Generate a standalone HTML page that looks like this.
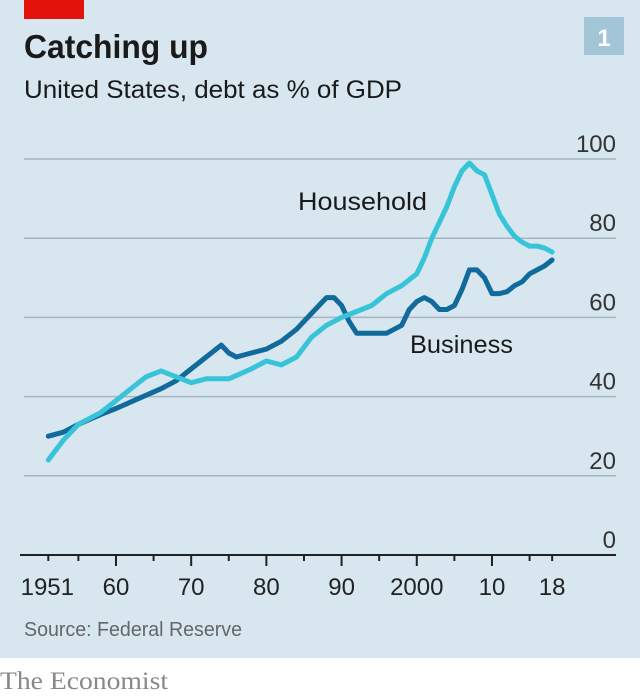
<!DOCTYPE html>
<html><head><meta charset="utf-8"><style>
body{margin:0;width:640px;height:697px;background:#fff;overflow:hidden}
svg{display:block}
text{font-family:"Liberation Sans",sans-serif}
</style></head><body>
<svg width="640" height="697">
<rect x="0" y="0" width="640" height="658" fill="#d7e6ef"/>
<rect x="24" y="0" width="60" height="19" fill="#e3120b"/>
<text x="24" y="58" font-size="33" font-weight="bold" fill="#1a1a1a" textLength="184" lengthAdjust="spacingAndGlyphs">Catching up</text>
<text x="24" y="98" font-size="25" fill="#1a1a1a" textLength="378" lengthAdjust="spacingAndGlyphs">United States, debt as % of GDP</text>
<rect x="584" y="17" width="40" height="38" fill="#a3c5d8"/>
<text x="604" y="46" font-size="24" font-weight="bold" fill="#fff" text-anchor="middle">1</text>
<g id="grid"></g>
<g id="series"></g>
<text x="298" y="210" font-size="25" fill="#1a1a1a" textLength="129" lengthAdjust="spacingAndGlyphs">Household</text>
<text x="410" y="353" font-size="25" fill="#1a1a1a" textLength="103" lengthAdjust="spacingAndGlyphs">Business</text>
<text x="24" y="636" font-size="20" fill="#666" textLength="218" lengthAdjust="spacingAndGlyphs">Source: Federal Reserve</text>
<text x="0" y="689" font-size="25" fill="#888" font-family="Liberation Serif, serif" style="font-family:'Liberation Serif',serif" textLength="168" lengthAdjust="spacingAndGlyphs">The Economist</text>
</svg>
<script>
const yTicks=[0,20,40,60,80,100];
const xTickYears=[1960,1970,1980,1990,2000,2010];
const xMinorYears=[1951,1955,1965,1975,1985,1995,2005,2015,2018];
const xLabelYears=[1951,1960,1970,1980,1990,2000,2010,2018];
const xLabels=["1951","60","70","80","90","2000","10","18"];
const hhYears=[1951,1953,1955,1958,1960,1962,1964,1966,1968,1970,1972,1975,1978,1980,1982,1984,1986,1988,1990,1992,1994,1996,1998,2000,2001,2002,2003,2004,2005,2006,2007,2008,2009,2010,2011,2012,2013,2014,2015,2016,2017,2018];
const hhValues=[24,29,33,36,39,42,45,46.5,45,43.5,44.5,44.5,47,49,48,50,55,58,60,61.5,63,66,68,71,75,80,84,88,93,97,99,97,96,91,86,83,80.5,79,78,78,77.5,76.5];
const bizYears=[1951,1953,1955,1958,1960,1963,1966,1968,1970,1972,1974,1975,1976,1978,1980,1982,1984,1986,1988,1989,1990,1991,1992,1994,1996,1998,1999,2000,2001,2002,2003,2004,2005,2006,2007,2008,2009,2010,2011,2012,2013,2014,2015,2016,2017,2018];
const bizValues=[30,31,33,35.5,37,39.5,42,44,47,50,53,51,50,51,52,54,57,61,65,65,63,59,56,56,56,58,62,64,65,64,62,62,63,67,72,72,70,66,66,66.5,68,69,71,72,73,74.5];
const NS="http://www.w3.org/2000/svg";
const X=y=>48.3+(y-1951)*7.52;
const Y=v=>555-v*3.96;
const grid=document.getElementById('grid'),ser=document.getElementById('series');
function mk(tag,attrs,parent){const e=document.createElementNS(NS,tag);for(const k in attrs)e.setAttribute(k,attrs[k]);parent.appendChild(e);return e;}
yTicks.forEach(v=>{
  if(v>0){const l=mk('line',{x1:24,x2:616,y1:Y(v),y2:Y(v),stroke:'#a6b5bf','stroke-width':1.5},grid);
  
  }
  const t=mk('text',{x:616,y:Y(v)-7,'font-size':24,fill:'#333','text-anchor':'end'},grid);
  t.textContent=v;
  
  
});
const ax=mk('line',{x1:20,x2:616,y1:555,y2:555,stroke:'#222','stroke-width':2},grid);


xTickYears.forEach(yr=>{const l=mk('line',{x1:X(yr),x2:X(yr),y1:555,y2:566,stroke:'#222','stroke-width':2},grid);
  
  });
xMinorYears.forEach(yr=>{const l=mk('line',{x1:X(yr),x2:X(yr),y1:555,y2:561,stroke:'#222','stroke-width':2},grid);
  
  });
xLabelYears.forEach((yr,i)=>{const t=mk('text',{x:X(yr)+(i==0?-1:0),y:595,'font-size':24,fill:'#222','text-anchor':'middle'},grid);
  t.textContent=xLabels[i];
  
  });
function line(years,vals,color,name){
  const d=years.map((y,i)=>(i?'L':'M')+X(y).toFixed(1)+','+Y(vals[i]).toFixed(1)).join('');
  const p=mk('path',{d:d,fill:'none',stroke:color,'stroke-width':5,'stroke-linejoin':'round','stroke-linecap':'round'},ser);
  
  
}
line(bizYears,bizValues,'#116a9c','business-line');
line(hhYears,hhValues,'#38c4d8','household-line');
</script>
</body></html>
